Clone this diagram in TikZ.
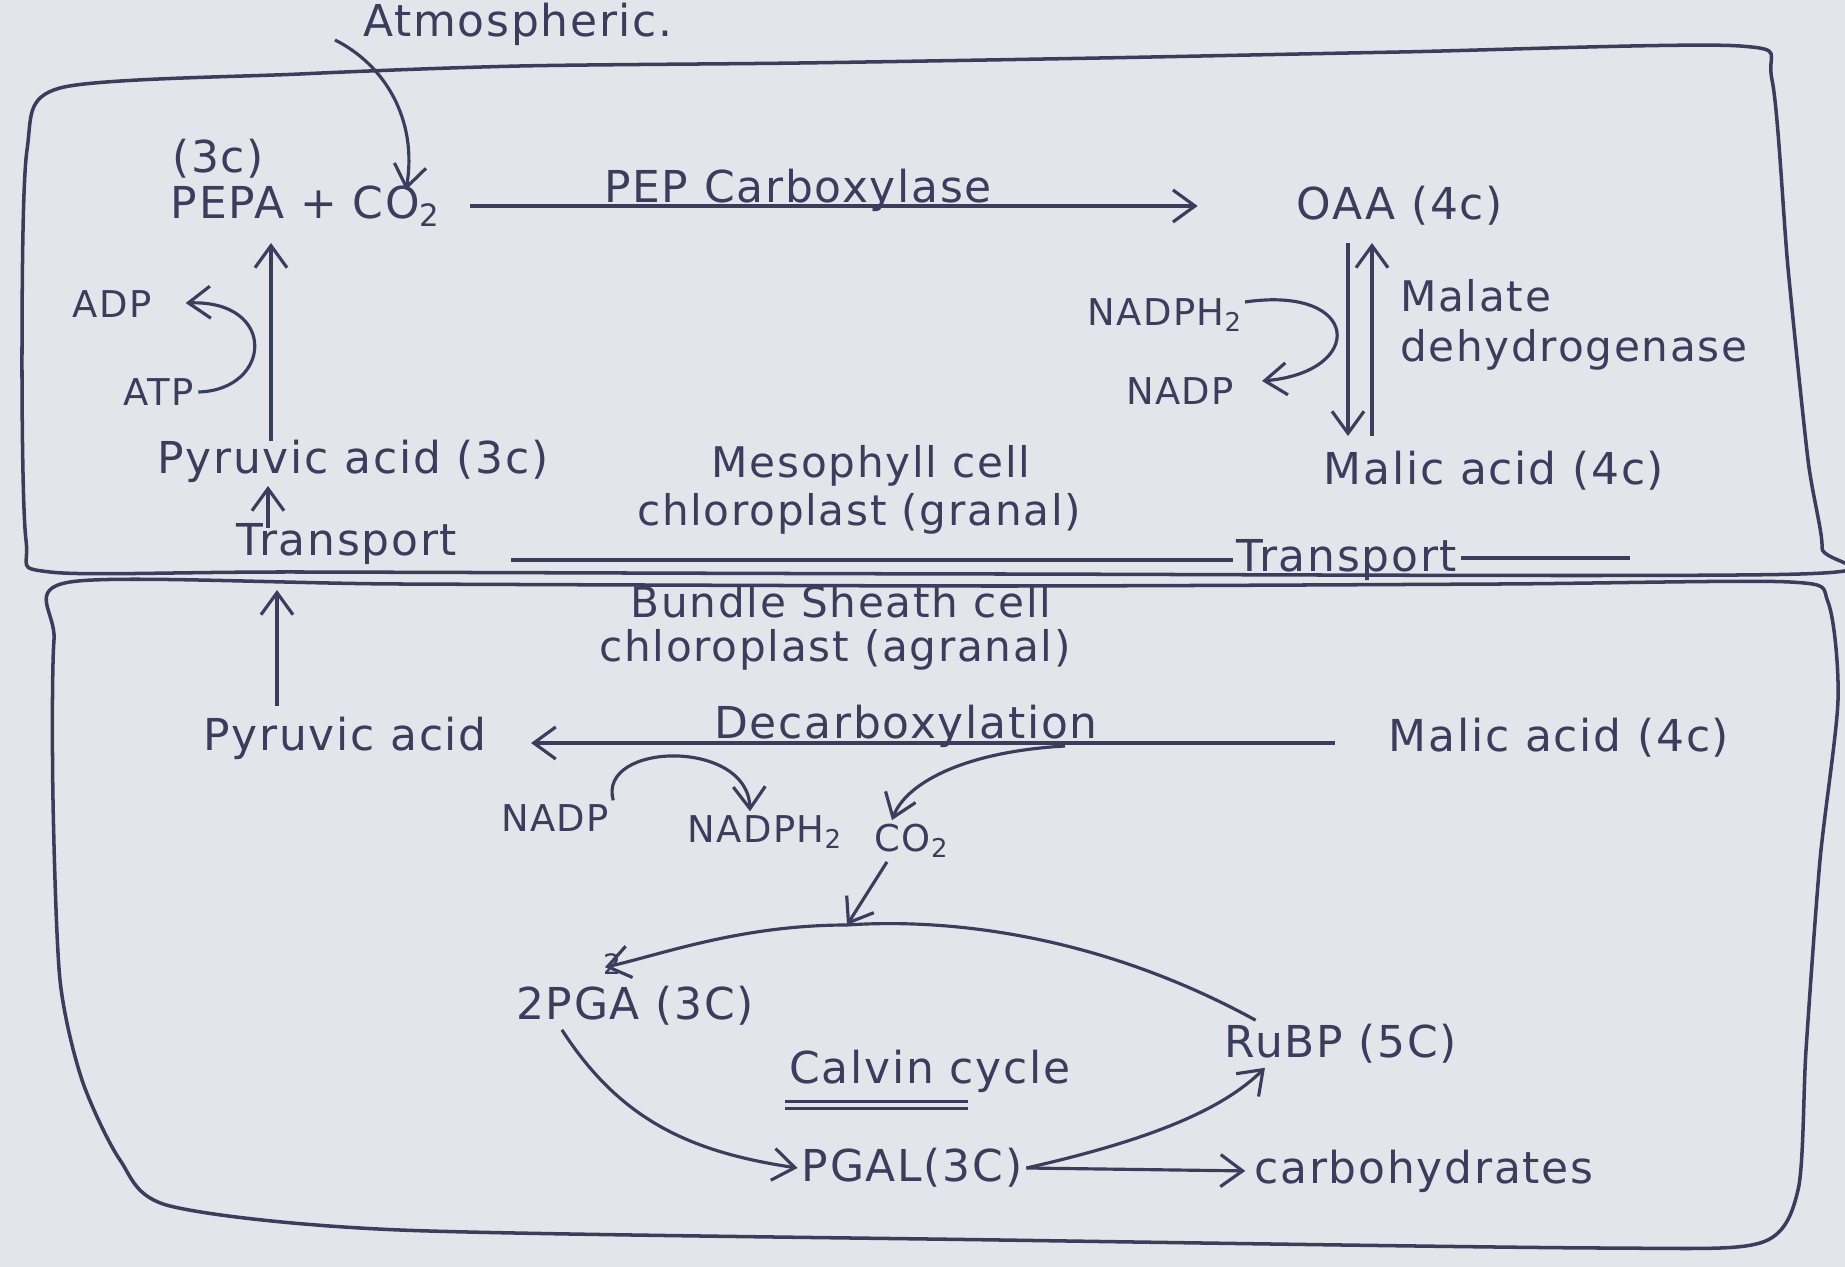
\documentclass[tikz,border=0pt]{standalone}
\usepackage{fontspec}
\setmainfont[LetterSpace=4]{DejaVu Sans}
\usetikzlibrary{arrows.meta,calc}
\definecolor{ink}{HTML}{3A3E5C}
\definecolor{paper}{HTML}{E4E5EA}
\begin{document}
\begin{tikzpicture}[x=0.01cm,y=-0.01cm,
  txt/.style={text=ink,font=\fontsize{12.5}{14}\selectfont,inner sep=1pt},
  midtxt/.style={text=ink,font=\fontsize{12}{13}\selectfont,inner sep=1pt},
  smalltxt/.style={text=ink,font=\fontsize{10.5}{12}\selectfont,inner sep=1pt},
  ln/.style={draw=ink,line width=0.9pt},
  arr/.style={ln,-{Straight Barb[length=2.2mm,width=3.2mm]}},
  boxline/.style={draw=ink,line width=1pt}]
\fill[paper] (0,0) rectangle (1845,1267);
\useasboundingbox (0,0) rectangle (1845,1267);

% cell outlines
\draw[boxline] plot[smooth cycle, tension=0.45] coordinates {(60,88) (300,74) (520,66) (800,63) (1100,58) (1400,52) (1740,46) (1772,80) (1788,268) (1808,460) (1822,548) (1800,574) (1000,574) (300,572) (50,572) (26,540) (22,350) (27,150)};
\draw[boxline] plot[smooth cycle, tension=0.45] coordinates {(70,582) (400,584) (1000,586) (1500,584) (1790,582) (1828,602) (1838,700) (1820,860) (1806,1050) (1798,1190) (1760,1243) (1600,1248) (1000,1240) (400,1230) (170,1206) (120,1160) (82,1080) (60,980) (53,800) (54,640)};

% texts - mesophyll
\node[txt] (atm) at (518,24) {Atmospheric.};
\node[txt] (c3) at (218,159) {(3c)};
\node[txt] (pepa) at (306,206) {PEPA + CO\textsubscript{2}};
\node[txt] (pepc) at (798,190) {PEP Carboxylase};
\node[txt] (oaa) at (1400,206) {OAA (4c)};
\node[smalltxt] (adp) at (112,304) {ADP};
\node[smalltxt] (atp) at (159,392) {ATP};
\node[txt] (pyr1) at (353,461) {Pyruvic acid (3c)};
\node[txt] (trL) at (347,544) {Transport};
\node[midtxt] (meso1) at (871,466) {Mesophyll cell};
\node[midtxt] (meso2) at (859,514) {chloroplast (granal)};
\node[smalltxt] (nadph1) at (1165,315) {NADPH\textsubscript{2}};
\node[smalltxt] (nadp1) at (1180,391) {NADP};
\node[midtxt,anchor=west] (mdh1) at (1396,296) {Malate};
\node[midtxt,anchor=west] (mdh2) at (1396,350) {dehydrogenase};
\node[txt] (mal1) at (1494,471) {Malic acid (4c)};
\node[txt] (trR) at (1347,560) {Transport};

% texts - bundle sheath
\node[midtxt] (bs1) at (841,602) {Bundle Sheath cell};
\node[midtxt] (bs2) at (835,650) {chloroplast (agranal)};
\node[txt] (pyr2) at (345,738) {Pyruvic acid};
\node[txt] (mal2) at (1559,738) {Malic acid (4c)};
\node[txt] (decarb) at (906,726) {Decarboxylation};
\node[smalltxt] (nadp2) at (555,818) {NADP};
\node[smalltxt] (nadph2) at (765,832) {NADPH\textsubscript{2}};
\node[smalltxt] (co2) at (912,841) {CO\textsubscript{2}};
\node[txt] (pga) at (635,1006) {2PGA (3C)};
\node[txt] (rubp) at (1341,1044) {RuBP (5C)};
\node[txt] (calvin) at (930,1071) {Calvin cycle};
\node[txt] (pgal) at (912,1168) {PGAL(3C)};
\node[txt] (carb) at (1424,1171) {carbohydrates};
\node[text=ink,font=\fontsize{8}{9}\selectfont,inner sep=0pt] (two) at (612,964) {2};

% named free ends
\coordinate (atmS) at (335,40);
\coordinate (co2top) at (406,190);
\coordinate (v1b) at (271,441);
\coordinate (v1t) at (271,243);
\coordinate (v2b) at (268,528);
\coordinate (v2t) at (268,486);
\coordinate (trEnd) at (1630,558);
\coordinate (nhS) at (1245,302);
\coordinate (nhE) at (1262,381);
\coordinate (mdLt) at (1348,243);
\coordinate (mdLb) at (1348,436);
\coordinate (mdRt) at (1372,243);
\coordinate (mdRb) at (1372,436);
\coordinate (v3b) at (277,706);
\coordinate (v3t) at (277,590);
\coordinate (dcC) at (1065,746);
\coordinate (cyc) at (847,925);

% mesophyll connectors
\draw[arr] (atmS) .. controls (385,65) and (418,120) .. (co2top);
\draw[arr,shorten <=0.25cm,shorten >=0.95cm] (pepa.east) -- (pepa.east -| oaa.west);
\draw[arr] (v1b) -- (v1t);
\draw[arr,shorten >=0.3cm] (atp.east) .. controls (272,390) and (278,300) .. (adp.east);
\draw[arr] (v2b) -- (v2t);
\draw[ln,shorten <=0.5cm] ([yshift=-0.16cm]trL.east) -- ([yshift=-0.16cm]trL.east -| trR.west);
\draw[ln] (trR.east |- trEnd) -- (trEnd);
\draw[arr] (nhS) .. controls (1362,285) and (1366,372) .. (nhE);
\draw[arr] (mdLt) -- (mdLb);
\draw[arr] (mdRb) -- (mdRt);

% bundle sheath connectors
\draw[arr] (v3b) -- (v3t);
\draw[arr,shorten <=0.5cm,shorten >=0.4cm] ([yshift=-0.05cm]mal2.west) -- ([yshift=-0.05cm]mal2.west -| pyr2.east);
\draw[arr] (nadp2.north east) .. controls (597,742) and (748,738) .. ([xshift=-0.15cm]nadph2.north);
\draw[arr] (dcC) .. controls (960,752) and (905,785) .. ([xshift=-0.2cm]co2.north);
\draw[arr] ([xshift=-0.25cm]co2.south) -- (cyc);
\draw[ln] ([xshift=0.35cm]rubp.north west) .. controls (1100,935) and (950,918) .. (cyc);
\draw[arr] (cyc) .. controls (740,925) and (660,955) .. ([xshift=-0.3cm,yshift=0.15cm]pga.north);
\draw[arr] ([xshift=0.5cm]pga.south west) .. controls (620,1120) and (690,1152) .. (pgal.west);
\draw[arr,shorten >=0.05cm] (pgal.east) -- (carb.west);
\draw[arr] (pgal.east) .. controls (1150,1140) and (1222,1110) .. ([xshift=-0.76cm]rubp.south);
\draw[ln] ([yshift=-0.05cm]calvin.south west) -- ++(183,0);
\draw[ln] ([yshift=-0.12cm]calvin.south west) -- ++(183,0);
\end{tikzpicture}
\end{document}
